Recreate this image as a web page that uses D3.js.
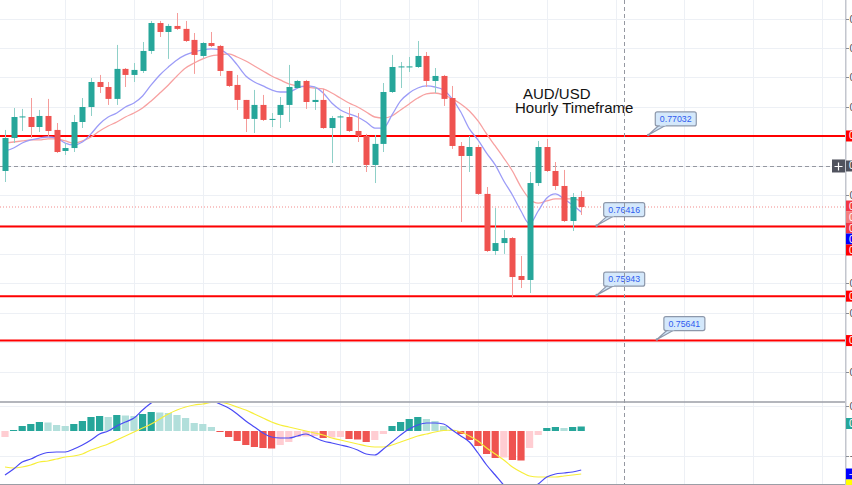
<!DOCTYPE html>
<html><head><meta charset="utf-8">
<script src="https://cdn.jsdelivr.net/npm/d3@7"></script>
<style>html,body{margin:0;padding:0;background:#fff;overflow:hidden}svg{display:block}</style>
</head><body>
<svg id="c" width="852" height="485"></svg>
<script>
// ---------- DATA ----------
const opens = [0.76794,0.77018,0.77158,0.77161,0.77093,0.77168,0.77073,0.76930,0.76950,0.77127,
 0.77229,0.77399,0.77365,0.77284,0.77488,0.77447,0.77474,0.77610,0.77800,0.77739,
 0.77780,0.77760,0.77685,0.77576,0.77664,0.77644,0.77474,0.77379,0.77277,0.77148,
 0.77243,0.77141,0.77175,0.77243,0.77358,0.77406,0.77263,0.77277,0.77086,0.77158,
 0.77161,0.77066,0.77032,0.76835,0.76978,0.77331,0.77498,0.77498,0.77501,0.77576,
 0.77406,0.77440,0.77290,0.76964,0.76896,0.76957,0.76638,0.76250,0.76304,0.76338,
 0.76080,0.76053,0.76712,0.76957,0.76794,0.76692,0.76454,0.76617];
const highs = [0.77073,0.77222,0.77216,0.77290,0.77209,0.77284,0.77120,0.76984,0.77175,0.77290,
 0.77426,0.77447,0.77399,0.77651,0.77494,0.77528,0.77671,0.77814,0.77814,0.77794,
 0.77868,0.77814,0.77732,0.77671,0.77739,0.77651,0.77474,0.77447,0.77277,0.77345,
 0.77311,0.77188,0.77297,0.77515,0.77413,0.77413,0.77365,0.77352,0.77168,0.77175,
 0.77229,0.77188,0.77046,0.77039,0.77392,0.77583,0.77535,0.77569,0.77678,0.77603,
 0.77494,0.77447,0.77372,0.76991,0.77032,0.76971,0.76685,0.76542,0.76393,0.76345,
 0.76216,0.76787,0.76998,0.77012,0.76855,0.76801,0.76644,0.76658];
const lows = [0.76719,0.76984,0.77066,0.77018,0.77059,0.77025,0.76916,0.76903,0.76923,0.77086,
 0.77168,0.77324,0.77243,0.77243,0.77365,0.77399,0.77460,0.77590,0.77705,0.77556,
 0.77753,0.77671,0.77454,0.77562,0.77637,0.77440,0.77365,0.77209,0.77059,0.77052,
 0.77134,0.77093,0.77086,0.77127,0.77352,0.77216,0.77209,0.77080,0.76848,0.77039,
 0.77059,0.76991,0.76787,0.76712,0.76923,0.77324,0.77358,0.77467,0.77494,0.77365,
 0.77324,0.77236,0.76944,0.76447,0.76787,0.76631,0.76243,0.76223,0.76230,0.75930,
 0.75998,0.75964,0.76692,0.76787,0.76665,0.76447,0.76386,0.76495];
const closes = [0.77018,0.77161,0.77165,0.77093,0.77168,0.77066,0.76923,0.76950,0.77127,0.77229,
 0.77399,0.77365,0.77284,0.77488,0.77447,0.77481,0.77610,0.77800,0.77739,0.77780,
 0.77760,0.77678,0.77583,0.77664,0.77644,0.77474,0.77372,0.77277,0.77148,0.77243,
 0.77141,0.77148,0.77243,0.77365,0.77406,0.77263,0.77277,0.77086,0.77154,0.77165,
 0.77066,0.77032,0.76835,0.76978,0.77331,0.77501,0.77505,0.77505,0.77576,0.77406,
 0.77440,0.77284,0.76964,0.76896,0.76957,0.76638,0.76250,0.76304,0.76338,0.76073,
 0.76053,0.76712,0.76957,0.76794,0.76692,0.76454,0.76617,0.76549];
const maFast = [0.76930,0.76950,0.76984,0.77005,0.77018,0.77025,0.77018,0.76984,0.76971,0.76991,
 0.77046,0.77114,0.77161,0.77188,0.77229,0.77256,0.77304,0.77379,0.77447,0.77501,
 0.77549,0.77583,0.77603,0.77617,0.77624,0.77617,0.77583,0.77515,0.77440,0.77399,
 0.77372,0.77345,0.77331,0.77331,0.77358,0.77372,0.77365,0.77324,0.77256,0.77209,
 0.77182,0.77161,0.77127,0.77086,0.77086,0.77175,0.77270,0.77324,0.77358,0.77372,
 0.77365,0.77345,0.77284,0.77195,0.77080,0.77005,0.76916,0.76835,0.76726,0.76631,
 0.76522,0.76434,0.76522,0.76610,0.76638,0.76604,0.76563,0.76515];
const maSlow = [0.76984,0.76991,0.76998,0.77005,0.77005,0.77012,0.77012,0.76998,0.76984,0.76998,
 0.77025,0.77066,0.77100,0.77127,0.77161,0.77188,0.77222,0.77270,0.77324,0.77379,
 0.77440,0.77494,0.77528,0.77556,0.77576,0.77583,0.77590,0.77569,0.77542,0.77508,
 0.77474,0.77440,0.77413,0.77386,0.77372,0.77365,0.77358,0.77352,0.77324,0.77290,
 0.77256,0.77229,0.77195,0.77161,0.77154,0.77168,0.77209,0.77250,0.77290,0.77318,
 0.77324,0.77311,0.77284,0.77250,0.77202,0.77134,0.77046,0.76964,0.76882,0.76794,
 0.76685,0.76604,0.76576,0.76590,0.76604,0.76604,0.76604,0.76590];
const macdHist = [-0.00012,0.00002,0.00010,0.00014,0.00018,0.00017,0.00012,0.00010,0.00014,0.00020,
 0.00028,0.00030,0.00028,0.00032,0.00031,0.00030,0.00034,0.00038,0.00037,0.00036,
 0.00032,0.00026,0.00016,0.00014,0.00008,-0.00002,-0.00012,-0.00020,-0.00028,-0.00032,
 -0.00034,-0.00035,-0.00028,-0.00022,-0.00012,-0.00011,-0.00010,-0.00014,-0.00013,-0.00012,
 -0.00016,-0.00017,-0.00022,-0.00018,-0.00006,0.00010,0.00018,0.00024,0.00028,0.00024,
 0.00020,0.00010,0.00002,-0.00006,-0.00018,-0.00030,-0.00046,-0.00054,-0.00053,-0.00058,
 -0.00059,-0.00034,-0.00008,0.00006,0.00008,0.00006,0.00008,0.00009];
const macdLine = [-0.00088,-0.00076,-0.00062,-0.00056,-0.00048,-0.00043,-0.00042,-0.00042,-0.00036,-0.00028,
 -0.00018,-0.00006,0.00000,0.00010,0.00018,0.00026,0.00042,0.00056,0.00064,0.00070,
 0.00074,0.00074,0.00070,0.00066,0.00062,0.00054,0.00046,0.00034,0.00020,0.00008,
 -0.00004,-0.00012,-0.00014,-0.00014,-0.00010,-0.00006,-0.00013,-0.00020,-0.00024,-0.00028,
 -0.00032,-0.00038,-0.00046,-0.00048,-0.00036,-0.00022,-0.00008,0.00004,0.00012,0.00016,
 0.00016,0.00014,0.00002,-0.00010,-0.00022,-0.00044,-0.00068,-0.00088,-0.00108,-0.00120,
 -0.00124,-0.00118,-0.00106,-0.00092,-0.00086,-0.00084,-0.00082,-0.00078];
const macdSignal = [-0.00072,-0.00074,-0.00072,-0.00068,-0.00062,-0.00060,-0.00056,-0.00052,-0.00050,-0.00046,
 -0.00038,-0.00032,-0.00026,-0.00018,-0.00010,-0.00002,0.00006,0.00014,0.00024,0.00034,
 0.00042,0.00048,0.00052,0.00054,0.00057,0.00057,0.00054,0.00048,0.00042,0.00034,
 0.00026,0.00018,0.00012,0.00008,0.00004,0.00000,-0.00004,-0.00008,-0.00014,-0.00018,
 -0.00022,-0.00026,-0.00030,-0.00032,-0.00032,-0.00028,-0.00022,-0.00016,-0.00010,-0.00006,
 -0.00002,0.00001,0.00002,-0.00002,-0.00010,-0.00020,-0.00034,-0.00046,-0.00058,-0.00072,
 -0.00082,-0.00090,-0.00092,-0.00092,-0.00092,-0.00090,-0.00088,-0.00086];
const levels = [0.77032, 0.76416, 0.75943, 0.75641];
const levelLabels = ["0.77032", "0.76416", "0.75943", "0.75641"];
const calloutIndex = [74.8, 68.8, 68.8, 75.8];
const priceTicks = [0.7783,0.7763,0.7743,0.7723,0.7703,0.7683,0.7663,0.7643,0.7623,0.7603,0.7583,0.7563,0.7543];
const macdTicks = [0.0005, -0.0005];
const timeTicks = [7,15,23,31,39,47,55,63,71,79,87,95];
const crosshair = {index: 72, price: 0.76828};
const titleLines = ["AUD/USD", "Hourly Timeframe"];

// ---------- LAYOUT ----------
const W = 852, H = 485, axisX = 845;
const priceTop = 0, priceBottom = 401, macdTop = 403, macdBottom = 484;
const x = d3.scaleLinear().domain([0, 95]).range([5, 822]);
const y = d3.scaleLinear().domain([0.7783, 0.7543]).range([18.6, 371.6]);
const ym = d3.scaleLinear().domain([0.0005, -0.0005]).range([406, 456]);
const fmt = d3.format(".5f");
const FONT = "Liberation Sans, Arial, sans-serif";

const GREEN = "#26a69a", RED = "#ef5350", GRID = "#edf0f5";
const svg = d3.select("#c");
const defs = svg.append("defs");
defs.append("clipPath").attr("id","cp").append("rect").attr("x",0).attr("y",priceTop).attr("width",axisX).attr("height",priceBottom-priceTop);
defs.append("clipPath").attr("id","cm").append("rect").attr("x",0).attr("y",macdTop).attr("width",axisX).attr("height",macdBottom-macdTop);
defs.append("clipPath").attr("id","ca").append("rect").attr("x",axisX).attr("y",0).attr("width",W-axisX).attr("height",H);

// grid
const grid = svg.append("g");
grid.selectAll("line.h").data(priceTicks).join("line")
  .attr("x1",0).attr("x2",axisX).attr("y1",d=>Math.round(y(d))+0.5).attr("y2",d=>Math.round(y(d))+0.5)
  .attr("stroke",GRID).attr("stroke-width",1);
grid.selectAll("line.m").data(macdTicks).join("line")
  .attr("x1",0).attr("x2",axisX).attr("y1",d=>Math.round(ym(d))+0.5).attr("y2",d=>Math.round(ym(d))+0.5)
  .attr("stroke",GRID).attr("stroke-width",1);
grid.selectAll("line.v").data(timeTicks).join("line")
  .attr("x1",d=>Math.round(x(d))+0.5).attr("x2",d=>Math.round(x(d))+0.5).attr("y1",0).attr("y2",macdBottom)
  .attr("stroke",GRID).attr("stroke-width",1);

// price panel
const pp = svg.append("g").attr("clip-path","url(#cp)");
const idx = d3.range(opens.length);
pp.append("line").attr("x1",0).attr("x2",axisX)
  .attr("y1",y(closes[closes.length-1])).attr("y2",y(closes[closes.length-1]))
  .attr("stroke","#f28b8b").attr("stroke-width",1).attr("stroke-dasharray","1,2");
pp.append("line").attr("x1",0).attr("x2",axisX).attr("y1",Math.round(y(crosshair.price))+0.5).attr("y2",Math.round(y(crosshair.price))+0.5)
  .attr("stroke","#9598a1").attr("stroke-width",1).attr("stroke-dasharray","4,3");
pp.selectAll("line.lvl").data(levels).join("line")
  .attr("x1",0).attr("x2",axisX).attr("y1",d=>y(d)).attr("y2",d=>y(d))
  .attr("stroke","#ff0000").attr("stroke-width",2);
const lineP = arr => d3.line().x((d,i)=>x(i)).y(d=>y(d)).curve(d3.curveMonotoneX)(arr);
pp.append("path").attr("d",lineP(maSlow)).attr("fill","none").attr("stroke","#f7a1a1").attr("stroke-width",1.3);
pp.append("path").attr("d",lineP(maFast)).attr("fill","none").attr("stroke","#9c9cf7").attr("stroke-width",1.3);
const cg = pp.append("g");
cg.selectAll("line.w").data(idx).join("line")
  .attr("x1",i=>Math.round(x(i))+0.5).attr("x2",i=>Math.round(x(i))+0.5)
  .attr("y1",i=>y(highs[i])).attr("y2",i=>y(lows[i]))
  .attr("stroke",i=>closes[i]>=opens[i]?"#8fd0c8":"#f59c9a").attr("stroke-width",1);
cg.selectAll("rect").data(idx).join("rect")
  .attr("x",i=>Math.round(x(i))-2.5).attr("width",6)
  .attr("y",i=>y(Math.max(opens[i],closes[i])))
  .attr("height",i=>Math.max(1,Math.abs(y(opens[i])-y(closes[i]))))
  .attr("fill",i=>closes[i]>=opens[i]?GREEN:RED);

// callouts
const cog = pp.append("g");
levels.forEach((lv,k)=>{
  const ax = x(calloutIndex[k]), ay = y(lv) - 1;
  const bx = ax + 7, bw = 41, bh = 14, by = ay - 9 - bh;
  cog.append("path").attr("d",`M${bx+4},${by+bh-1} L${bx+11},${by+bh-1} L${ax},${ay} Z`)
    .attr("fill","#d4e8fb").attr("stroke","#8d98ab").attr("stroke-width",1.2).attr("stroke-linejoin","round");
  cog.append("rect").attr("x",bx).attr("y",by).attr("width",bw).attr("height",bh).attr("rx",2)
    .attr("fill","#d4e8fb").attr("stroke","#8d98ab").attr("stroke-width",1.2);
  cog.append("path").attr("d",`M${bx+4.6},${by+bh-1} L${bx+10.4},${by+bh-1}`).attr("stroke","#d4e8fb").attr("stroke-width",1.6);
  cog.append("circle").attr("cx",ax).attr("cy",ay).attr("r",1.3).attr("fill","#8d98ab");
  cog.append("text").attr("x",bx+bw/2).attr("y",by+bh/2+3).attr("text-anchor","middle")
    .attr("font-family",FONT).attr("font-size",8.8).attr("fill","#2f5cf0")
    .text(levelLabels[k]);
});

// title
svg.append("text").attr("x",523).attr("y",99).attr("font-family",FONT)
  .attr("font-size",15).attr("fill","#111").text(titleLines[0]);
svg.append("text").attr("x",515).attr("y",113).attr("font-family",FONT)
  .attr("font-size",15).attr("fill","#111").text(titleLines[1]);

// MACD panel
const mp = svg.append("g").attr("clip-path","url(#cm)");
const histColor = (v,i) => {
  const prev = i>0 ? macdHist[i-1] : (v<0 ? v-1 : v+1);
  if (v >= 0) return v >= prev ? "#26a69a" : "#b2dfdb";
  return v <= prev ? "#ef5350" : "#ffcdd2";
};
mp.selectAll("rect").data(macdHist).join("rect")
  .attr("x",(d,i)=>x(i)-3.6).attr("width",7.2)
  .attr("y",d=>Math.min(ym(d),ym(0))).attr("height",d=>Math.max(0.8,Math.abs(ym(d)-ym(0))))
  .attr("fill",(d,i)=>histColor(d,i));
const lineM = arr => d3.line().x((d,i)=>x(i)).y(d=>ym(d)).curve(d3.curveMonotoneX)(arr);
mp.append("path").attr("d",lineM(macdSignal)).attr("fill","none").attr("stroke","#f7ee3a").attr("stroke-width",1.2);
mp.append("path").attr("d",lineM(macdLine)).attr("fill","none").attr("stroke","#4a4af5").attr("stroke-width",1.2);

// crosshair vertical
svg.append("line").attr("x1",Math.round(x(crosshair.index))+0.5).attr("x2",Math.round(x(crosshair.index))+0.5)
  .attr("y1",0).attr("y2",macdBottom).attr("stroke","#9598a1").attr("stroke-width",1).attr("stroke-dasharray","4,3");

// panel borders
svg.append("line").attr("x1",0).attr("x2",W).attr("y1",402).attr("y2",402).attr("stroke","#9b9ea6").attr("stroke-width",1.5);
svg.append("line").attr("x1",0).attr("x2",W).attr("y1",484.5).attr("y2",484.5).attr("stroke","#9b9ea6").attr("stroke-width",1.2);

// right axis
const ax = svg.append("g").attr("clip-path","url(#ca)");
ax.append("rect").attr("x",axisX).attr("y",0).attr("width",W-axisX).attr("height",H).attr("fill","#fff");
ax.append("line").attr("x1",axisX+0.5).attr("x2",axisX+0.5).attr("y1",0).attr("y2",H).attr("stroke","#c3c6ce").attr("stroke-width",2);

// value labels on the axis (drawn over tick labels they cover)
const lastY = y(closes[closes.length-1]);
const valueLabels = [
  {yy: y(levels[0]), bg: "#ff0000", txt: levelLabels[0]},
  {yy: y(crosshair.price), bg: "#50535e", txt: fmt(crosshair.price)},
  {yy: lastY-1, bg: "#f23645", txt: fmt(closes[closes.length-1])},
  {yy: lastY+10, bg: "#f47e7e", txt: fmt(maSlow[maSlow.length-1])},
  {yy: lastY+21, bg: "#f23645", txt: levelLabels[1]},
  {yy: lastY+32, bg: "#0000ff", txt: fmt(maFast[maFast.length-1])},
  {yy: lastY+43, bg: "#ff0000", txt: fmt(lows[lows.length-1])},
  {yy: y(levels[2]), bg: "#ff0000", txt: levelLabels[2]},
  {yy: y(levels[3]), bg: "#ff0000", txt: levelLabels[3]},
  {yy: ym(macdHist[macdHist.length-1])-3, bg: "#26a69a", txt: fmt(macdHist[macdHist.length-1])},
  {yy: 474, bg: "#0000ff", txt: fmt(macdLine[macdLine.length-1])},
  {yy: 485, bg: "#ffff00", txt: fmt(macdSignal[macdSignal.length-1]), fg: "#000"}
];
const axisTicks = priceTicks.map(v=>({v, yy:y(v)})).concat(macdTicks.map(v=>({v, yy:ym(v)})));
ax.selectAll("line.t").data(axisTicks).join("line")
  .attr("x1",axisX+1).attr("x2",axisX+4).attr("y1",d=>Math.round(d.yy)+0.5).attr("y2",d=>Math.round(d.yy)+0.5)
  .attr("stroke","#8a8e97");
const visibleTicks = axisTicks.filter(t => !valueLabels.some(l => Math.abs(l.yy - t.yy) < 10));
ax.selectAll("text.t").data(visibleTicks).join("text")
  .attr("x",axisX+4.5).attr("y",d=>d.yy+4).attr("font-family",FONT)
  .attr("font-size",11).attr("fill","#50535e").text(d=>fmt(d.v));

valueLabels.forEach(l=>{
  ax.append("rect").attr("x",axisX+1).attr("y",l.yy-5.5).attr("width",W-axisX).attr("height",11).attr("fill",l.bg);
  ax.append("text").attr("x",axisX+4).attr("y",l.yy+3.5).attr("font-family",FONT)
    .attr("font-size",10).attr("fill",l.fg||"#fff").text(l.txt);
});
// crosshair + button
svg.append("rect").attr("x",832).attr("y",y(crosshair.price)-6.5).attr("width",13).attr("height",13).attr("fill","#50535e");
svg.append("path").attr("d",()=>{const cy=Math.round(y(crosshair.price))+0.5;return `M834.5,${cy} L842.5,${cy} M838.5,${cy-4} L838.5,${cy+4}`;})
  .attr("stroke","#fff").attr("stroke-width",1.2);
</script>
</body></html>
